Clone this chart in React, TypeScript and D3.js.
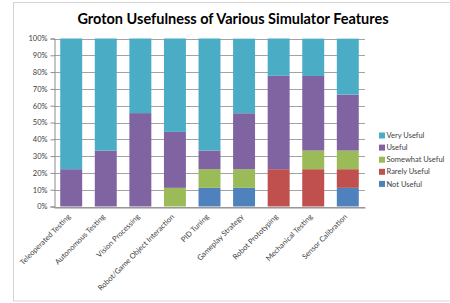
import React, { useRef, useEffect } from "react";
import * as d3 from "d3";

const features = [
  "Teleoperated Testing",
  "Autonomous Testing",
  "Vision Processing",
  "Robot/Game Object Interaction",
  "PID Tuning",
  "Gameplay Strategy",
  "Robot Prototyping",
  "Mechanical Testing",
  "Sensor Calibration",
];

// percentages per category (bottom to top)
const notUseful = [0, 0, 0, 0, 11.1, 11.1, 0, 0, 11.1];
const rarelyUseful = [0, 0, 0, 0, 0, 0, 22.2, 22.2, 11.1];
const somewhatUseful = [0, 0, 0, 11.1, 11.1, 11.1, 0, 11.1, 11.1];
const useful = [22.2, 33.3, 55.6, 33.3, 11.1, 33.3, 55.6, 44.4, 33.3];
const veryUseful = [77.8, 66.7, 44.4, 55.6, 66.7, 44.4, 22.2, 22.2, 33.3];

const seriesNames = ["Not Useful", "Rarely Useful", "Somewhat Useful", "Useful", "Very Useful"];
const seriesColors = ["#4f81bd", "#c0504d", "#9bbb59", "#8064a2", "#4bacc6"];
const yTicks = [0, 10, 20, 30, 40, 50, 60, 70, 80, 90, 100];

const W = 450;
const H = 303;
const plot = { left: 54, right: 365, top: 38.5, bottom: 206.5 };
const font = "Lato, 'Open Sans', sans-serif";

export default function App() {
  const svgRef = useRef<SVGSVGElement>(null);

  useEffect(() => {
    const svg = d3.select(svgRef.current);
    svg.selectAll("*").remove();

    const all = [notUseful, rarelyUseful, somewhatUseful, useful, veryUseful];
    const rows = features.map((f, i) => {
      const r: any = { feature: f };
      seriesNames.forEach((s, k) => (r[s] = all[k][i]));
      return r;
    });
    const stacked = d3.stack().keys(seriesNames)(rows);

    const x = d3.scaleBand().domain(features).range([plot.left, plot.right]).paddingInner(0.365).paddingOuter(0.18);
    const y = d3.scaleLinear().domain([0, 100]).range([plot.bottom, plot.top]);

    // chart frame
    svg.append("rect")
      .attr("x", 13.5).attr("y", 2.5)
      .attr("width", 460).attr("height", 298.5)
      .attr("fill", "#fff")
      .attr("stroke", "#d4d4d4");

    // title
    svg.append("text")
      .attr("x", 233).attr("y", 24)
      .attr("text-anchor", "middle")
      .style("font-family", font)
      .style("font-size", "14.5px")
      .style("font-weight", "bold")
      .style("fill", "#000")
      .text("Groton Usefulness of Various Simulator Features");

    // gridlines
    svg.append("g").selectAll("line")
      .data(yTicks)
      .join("line")
      .attr("x1", plot.left).attr("x2", plot.right)
      .attr("y1", d => Math.round(y(d)) + 0.5).attr("y2", d => Math.round(y(d)) + 0.5)
      .attr("stroke", "#8c8c8c")
      .attr("stroke-width", 0.8);

    // bars
    svg.append("g").selectAll("g")
      .data(stacked)
      .join("g")
      .attr("fill", (_, i) => seriesColors[i])
      .selectAll("rect")
      .data(d => d)
      .join("rect")
      .attr("x", d => x(d.data.feature as string)!)
      .attr("width", x.bandwidth())
      .attr("y", d => y(d[1]))
      .attr("height", d => y(d[0]) - y(d[1]));

    // y axis
    const yAxis = svg.append("g")
      .attr("transform", `translate(${plot.left + 0.5},0)`)
      .call(d3.axisLeft(y).tickValues(yTicks).tickSize(4).tickPadding(3).tickFormat(d => `${d}%`));
    yAxis.select(".domain").attr("stroke", "#8c8c8c");
    yAxis.selectAll(".tick line").attr("stroke", "#8c8c8c");
    yAxis.selectAll(".tick text")
      .style("font-family", font)
      .style("font-size", "7.5px")
      .style("fill", "#404040");

    // x axis
    const xAxis = svg.append("g")
      .attr("transform", `translate(0,${Math.round(plot.bottom) + 0.5})`)
      .call(d3.axisBottom(x).tickSize(0).tickPadding(0));
    xAxis.select(".domain").attr("stroke", "#8c8c8c");
    xAxis.selectAll(".tick text")
      .attr("transform", "translate(-2,8) rotate(-45)")
      .attr("dy", "0.35em")
      .style("text-anchor", "end")
      .style("font-family", font)
      .style("font-size", "7.5px")
      .style("fill", "#404040");

    // legend
    const legend = svg.append("g").attr("transform", "translate(379,135.5)");
    const order = [4, 3, 2, 1, 0];
    order.forEach((k, i) => {
      const row = legend.append("g").attr("transform", `translate(0,${i * 12.1})`);
      row.append("rect")
        .attr("x", 0).attr("y", -3)
        .attr("width", 6).attr("height", 6)
        .attr("fill", seriesColors[k]);
      row.append("text")
        .attr("x", 7.5).attr("y", 0)
        .attr("dy", "0.35em")
        .style("font-family", font)
        .style("font-size", "7.5px")
        .style("fill", "#404040")
        .text(seriesNames[k]);
    });
  }, []);

  return (
    <div style={{ position: "absolute", left: 0, top: 0, width: W, height: H, background: "#fff" }}>
      <svg ref={svgRef} width={W} height={H} />
    </div>
  );
}
